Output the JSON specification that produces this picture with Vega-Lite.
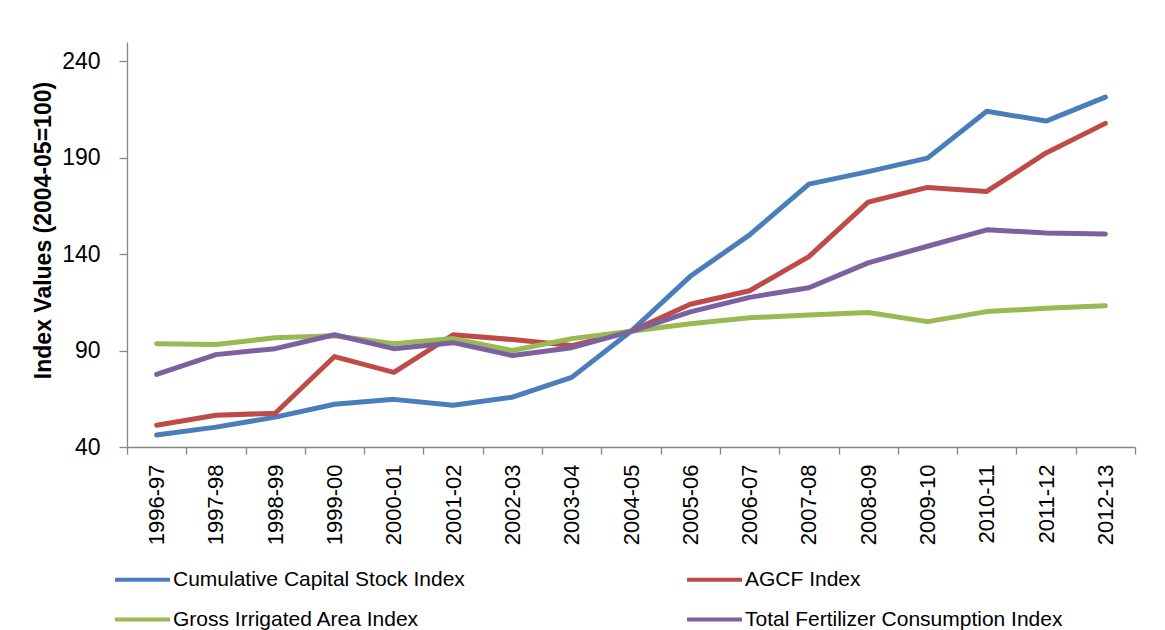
{
  "$schema": "https://vega.github.io/schema/vega-lite/v6.json",
  "autosize": {"type": "none"},
  "width": 1008,
  "height": 405,
  "padding": {"left": 127, "top": 42, "right": 30, "bottom": 183},
  "background": "white",
  "config": {
    "view": {"stroke": null},
    "font": "Liberation Sans"
  },
  "data": {
    "values": [
      {"year": "1996-97", "series": "Cumulative Capital Stock Index", "value": 46.2},
      {"year": "1997-98", "series": "Cumulative Capital Stock Index", "value": 50.3},
      {"year": "1998-99", "series": "Cumulative Capital Stock Index", "value": 55.5},
      {"year": "1999-00", "series": "Cumulative Capital Stock Index", "value": 62.2},
      {"year": "2000-01", "series": "Cumulative Capital Stock Index", "value": 64.7},
      {"year": "2001-02", "series": "Cumulative Capital Stock Index", "value": 61.6},
      {"year": "2002-03", "series": "Cumulative Capital Stock Index", "value": 65.8},
      {"year": "2003-04", "series": "Cumulative Capital Stock Index", "value": 76.1},
      {"year": "2004-05", "series": "Cumulative Capital Stock Index", "value": 100},
      {"year": "2005-06", "series": "Cumulative Capital Stock Index", "value": 128.5},
      {"year": "2006-07", "series": "Cumulative Capital Stock Index", "value": 150},
      {"year": "2007-08", "series": "Cumulative Capital Stock Index", "value": 176.3},
      {"year": "2008-09", "series": "Cumulative Capital Stock Index", "value": 182.8},
      {"year": "2009-10", "series": "Cumulative Capital Stock Index", "value": 189.8},
      {"year": "2010-11", "series": "Cumulative Capital Stock Index", "value": 214.1},
      {"year": "2011-12", "series": "Cumulative Capital Stock Index", "value": 209},
      {"year": "2012-13", "series": "Cumulative Capital Stock Index", "value": 221.4},
      {"year": "1996-97", "series": "AGCF Index", "value": 51.3},
      {"year": "1997-98", "series": "AGCF Index", "value": 56.5},
      {"year": "1998-99", "series": "AGCF Index", "value": 57.5},
      {"year": "1999-00", "series": "AGCF Index", "value": 86.9},
      {"year": "2000-01", "series": "AGCF Index", "value": 78.7},
      {"year": "2001-02", "series": "AGCF Index", "value": 98.2},
      {"year": "2002-03", "series": "AGCF Index", "value": 95.7},
      {"year": "2003-04", "series": "AGCF Index", "value": 92.6},
      {"year": "2004-05", "series": "AGCF Index", "value": 100},
      {"year": "2005-06", "series": "AGCF Index", "value": 114},
      {"year": "2006-07", "series": "AGCF Index", "value": 121},
      {"year": "2007-08", "series": "AGCF Index", "value": 138.7},
      {"year": "2008-09", "series": "AGCF Index", "value": 167},
      {"year": "2009-10", "series": "AGCF Index", "value": 174.6},
      {"year": "2010-11", "series": "AGCF Index", "value": 172.5},
      {"year": "2011-12", "series": "AGCF Index", "value": 192.5},
      {"year": "2012-13", "series": "AGCF Index", "value": 207.8},
      {"year": "1996-97", "series": "Gross Irrigated Area Index", "value": 93.6},
      {"year": "1997-98", "series": "Gross Irrigated Area Index", "value": 93.1},
      {"year": "1998-99", "series": "Gross Irrigated Area Index", "value": 96.7},
      {"year": "1999-00", "series": "Gross Irrigated Area Index", "value": 97.7},
      {"year": "2000-01", "series": "Gross Irrigated Area Index", "value": 93.6},
      {"year": "2001-02", "series": "Gross Irrigated Area Index", "value": 96.2},
      {"year": "2002-03", "series": "Gross Irrigated Area Index", "value": 90},
      {"year": "2003-04", "series": "Gross Irrigated Area Index", "value": 96.2},
      {"year": "2004-05", "series": "Gross Irrigated Area Index", "value": 100},
      {"year": "2005-06", "series": "Gross Irrigated Area Index", "value": 103.9},
      {"year": "2006-07", "series": "Gross Irrigated Area Index", "value": 107},
      {"year": "2007-08", "series": "Gross Irrigated Area Index", "value": 108.5},
      {"year": "2008-09", "series": "Gross Irrigated Area Index", "value": 109.7},
      {"year": "2009-10", "series": "Gross Irrigated Area Index", "value": 105},
      {"year": "2010-11", "series": "Gross Irrigated Area Index", "value": 110.2},
      {"year": "2011-12", "series": "Gross Irrigated Area Index", "value": 112},
      {"year": "2012-13", "series": "Gross Irrigated Area Index", "value": 113.3},
      {"year": "1996-97", "series": "Total Fertilizer Consumption Index", "value": 77.6},
      {"year": "1997-98", "series": "Total Fertilizer Consumption Index", "value": 87.9},
      {"year": "1998-99", "series": "Total Fertilizer Consumption Index", "value": 91},
      {"year": "1999-00", "series": "Total Fertilizer Consumption Index", "value": 98.2},
      {"year": "2000-01", "series": "Total Fertilizer Consumption Index", "value": 91},
      {"year": "2001-02", "series": "Total Fertilizer Consumption Index", "value": 94.1},
      {"year": "2002-03", "series": "Total Fertilizer Consumption Index", "value": 87.4},
      {"year": "2003-04", "series": "Total Fertilizer Consumption Index", "value": 91.5},
      {"year": "2004-05", "series": "Total Fertilizer Consumption Index", "value": 100},
      {"year": "2005-06", "series": "Total Fertilizer Consumption Index", "value": 110.1},
      {"year": "2006-07", "series": "Total Fertilizer Consumption Index", "value": 117.6},
      {"year": "2007-08", "series": "Total Fertilizer Consumption Index", "value": 122.6},
      {"year": "2008-09", "series": "Total Fertilizer Consumption Index", "value": 135.5},
      {"year": "2009-10", "series": "Total Fertilizer Consumption Index", "value": 144.1},
      {"year": "2010-11", "series": "Total Fertilizer Consumption Index", "value": 152.6},
      {"year": "2011-12", "series": "Total Fertilizer Consumption Index", "value": 151},
      {"year": "2012-13", "series": "Total Fertilizer Consumption Index", "value": 150.5}
    ]
  },
  "mark": {"type": "line", "strokeWidth": 5, "strokeCap": "round", "strokeJoin": "round"},
  "encoding": {
    "x": {
      "field": "year",
      "type": "ordinal",
      "scale": {"paddingInner": 0, "paddingOuter": 0},
      "axis": {
        "title": null,
        "labelAngle": -90,
        "labelFontSize": 22,
        "labelColor": "black",
        "labelPadding": 10,
        "tickBand": "extent",
        "tickSize": 7,
        "tickColor": "#868686",
        "domainColor": "#868686",
        "tickWidth": 1.3,
        "domainWidth": 1.3
      }
    },
    "y": {
      "field": "value",
      "type": "quantitative",
      "scale": {"domain": [40, 250], "nice": false, "zero": false},
      "axis": {
        "title": "Index Values (2004-05=100)",
        "titleFontSize": 23,
        "titleFontWeight": "bold",
        "titleColor": "black",
        "titlePadding": 6,
        "titleY": 188,
        "values": [40, 90, 140, 190, 240],
        "grid": false,
        "labelFontSize": 23,
        "labelColor": "black",
        "labelPadding": 19,
        "tickSize": 8,
        "tickColor": "#868686",
        "domainColor": "#868686",
        "tickWidth": 1.3,
        "domainWidth": 1.3
      }
    },
    "color": {
      "field": "series",
      "type": "nominal",
      "sort": ["Cumulative Capital Stock Index", "AGCF Index", "Gross Irrigated Area Index", "Total Fertilizer Consumption Index"],
      "scale": {
        "domain": ["Cumulative Capital Stock Index", "AGCF Index", "Gross Irrigated Area Index", "Total Fertilizer Consumption Index"],
        "range": ["#4A7EBB", "#BE4B48", "#98B954", "#7D60A0"]
      },
      "legend": {
        "title": null,
        "orient": "none",
        "legendX": -14,
        "legendY": 508,
        "direction": "horizontal",
        "columns": 2,
        "columnPadding": 214,
        "rowPadding": 0,
        "symbolType": "stroke",
        "symbolSize": 3025,
        "symbolStrokeWidth": 4,
        "symbolOffset": 0,
        "labelFontSize": 21,
        "labelLimit": 600,
        "labelColor": "black",
        "labelOffset": 1,
        "padding": 0
      }
    }
  }
}
